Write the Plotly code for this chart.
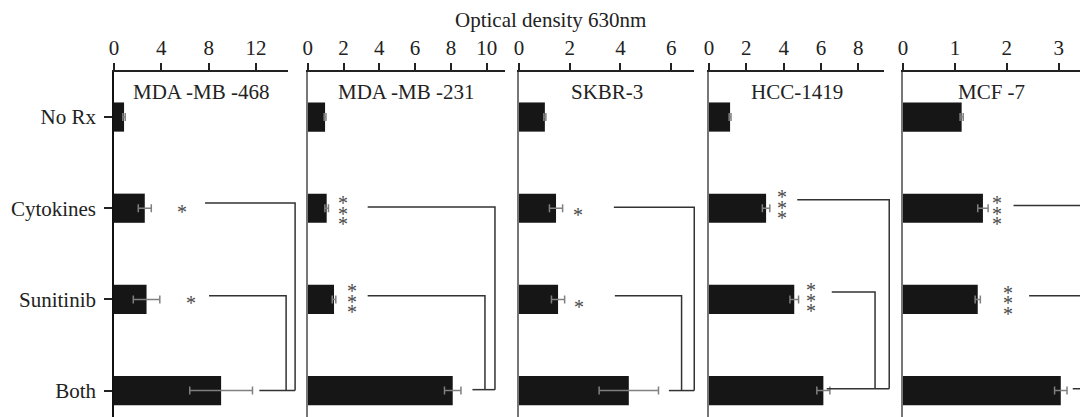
import plotly.graph_objects as go

# ---------------- data ----------------
categories = ["No Rx", "Cytokines", "Sunitinib", "Both"]
panel_titles = ["MDA -MB -468", "MDA -MB -231", "SKBR-3", "HCC-1419", "MCF -7"]

mda468_mean = [0.85, 2.6, 2.75, 9.05]
mda468_err = [0.1, 0.55, 1.12, 2.65]
mda231_mean = [0.97, 1.06, 1.47, 8.1]
mda231_err = [0.05, 0.1, 0.1, 0.46]
skbr3_mean = [1.02, 1.46, 1.54, 4.33]
skbr3_err = [0.04, 0.26, 0.26, 1.17]
hcc1419_mean = [1.13, 3.06, 4.57, 6.13]
hcc1419_err = [0.05, 0.2, 0.23, 0.35]
mcf7_mean = [1.13, 1.54, 1.44, 3.04]
mcf7_err = [0.03, 0.1, 0.05, 0.12]

cyto_sig = ["*", "***", "*", "***", "***"]
suni_sig = ["*", "***", "*", "***", "***"]

tick_vals = [[0, 4, 8, 12], [0, 2, 4, 6, 8, 10], [0, 2, 4, 6], [0, 2, 4, 6, 8], [0, 1, 2, 3]]
axis_title = "Optical density 630nm"

means = [mda468_mean, mda231_mean, skbr3_mean, hcc1419_mean, mcf7_mean]
errs = [mda468_err, mda231_err, skbr3_err, hcc1419_err, mcf7_err]

# ---------------- layout / style ----------------
W, H = 1080, 417
TOP, BOT = 72, 0
dom_px = [(114, 288), (307.7, 505), (519, 694), (709, 884), (903, 1080)]
x_max = [14.7, 11.02, 6.9, 9.38, 3.41]
y_range = [3.29, -0.494]
FONT = "Liberation Serif"
FS = 21
STAR_FS = 20

# annotation geometry (data units): star x, bracket start, bracket right, y offsets
star_cyto = [(5.75, 0.0), (1.96, 0.016), (2.31, 0.03), (3.9, -0.05), (1.82, 0.016)]
star_suni = [(6.48, 0.0), (2.49, -0.02), (2.38, 0.04), (5.45, -0.03), (2.02, 0.0)]
br_cyto = [(7.69, 15.3, -0.057), (3.35, 10.46, -0.013), (3.74, 6.91, -0.01), (4.73, 9.66, -0.093), (2.13, 3.7, -0.03)]
br_suni = [(8.03, 14.54, -0.04), (3.35, 9.9, -0.04), (3.78, 6.41, -0.04), (6.58, 8.9, -0.08), (2.43, 3.7, -0.04)]
br_both = [(12.28, 0.0), (9.2, -0.01), (5.91, 0.0), (6.31, -0.02), (3.27, -0.02)]

fig = go.Figure()


def paper_x(i, v):
    d0, d1 = dom_px[i]
    return (d0 + v / x_max[i] * (d1 - d0)) / W


def paper_y(c):
    return (y_range[0] - c) / (y_range[0] - y_range[1])


for i in range(5):
    n = "" if i == 0 else str(i + 1)
    fig.add_trace(go.Bar(
        y=categories, x=means[i], orientation="h",
        marker=dict(color="#161616", line=dict(width=0)),
        width=0.32,
        error_x=dict(type="data", array=errs[i], color="#808080", thickness=1.5, width=4),
        xaxis="x" + n, yaxis="y" + n, showlegend=False,
    ))
    fig.layout["xaxis" + n] = dict(
        domain=[dom_px[i][0] / W, dom_px[i][1] / W], range=[0, x_max[i]],
        side="top", anchor="y" + n, showline=True, linecolor="#222", linewidth=1.5,
        ticks="outside", ticklen=7, tickwidth=1.5, tickcolor="#222",
        tickvals=tick_vals[i], ticktext=[str(t) for t in tick_vals[i]],
        tickfont=dict(family=FONT, size=FS, color="#222"),
        showgrid=False, zeroline=False, automargin=False, fixedrange=True,
    )
    fig.layout["yaxis" + n] = dict(
        domain=[0, 1], anchor="x" + n, type="category",
        categoryorder="array", categoryarray=categories, range=y_range,
        showline=True, linecolor="#111" if i == 0 else "#777", linewidth=1.5,
        ticks="outside" if i == 0 else "", ticklen=8, tickwidth=1.5, tickcolor="#222",
        showticklabels=(i == 0), tickfont=dict(family=FONT, size=FS, color="#222"),
        ticklabelstandoff=4,
        showgrid=False, zeroline=False, automargin=False, fixedrange=True,
    )
    # panel title
    fig.add_annotation(
        x=(dom_px[i][0] + dom_px[i][1]) / 2 / W, y=paper_y(-0.27), xref="paper", yref="paper",
        text=panel_titles[i], showarrow=False, font=dict(family=FONT, size=FS, color="#222"),
        xanchor="center", yanchor="middle",
    )
    # significance stars
    for sig, (sx, sdy), row in ((cyto_sig[i], star_cyto[i], 1), (suni_sig[i], star_suni[i], 2)):
        k = len(sig)
        for j in range(k):
            shift = (j - (k - 1) / 2) * -10.5
            fig.add_annotation(
                x=sx, y=paper_y(row + sdy), xref="x" + n, yref="paper",
                text="*", showarrow=False, font=dict(family=FONT, size=STAR_FS, color="#4a4a4a"),
                xanchor="center", yanchor="middle", yshift=shift - 4,
            )
    # brackets
    yb = 3 + br_both[i][1]
    for (x_s, x_r, dy), row in ((br_cyto[i], 1), (br_suni[i], 2)):
        path = "M {:.5f} {:.5f} L {:.5f} {:.5f} L {:.5f} {:.5f}".format(
            paper_x(i, x_s), paper_y(row + dy), paper_x(i, x_r), paper_y(row + dy),
            paper_x(i, x_r), paper_y(yb))
        fig.add_shape(type="path", path=path, xref="paper", yref="paper",
                      line=dict(color="#333", width=1.5))
    x_outer = max(br_cyto[i][1], br_suni[i][1])
    fig.add_shape(type="line", xref="paper", yref="paper",
                  x0=paper_x(i, br_both[i][0]), x1=paper_x(i, x_outer),
                  y0=paper_y(yb), y1=paper_y(yb), line=dict(color="#333", width=1.5))

fig.add_annotation(
    x=550.5 / W, y=(H - 20 - BOT) / (H - TOP - BOT), xref="paper", yref="paper",
    text=axis_title, showarrow=False, font=dict(family=FONT, size=FS, color="#222"),
    xanchor="center", yanchor="middle",
)

fig.update_layout(
    width=W, height=H, margin=dict(l=0, r=0, t=TOP, b=BOT, pad=0),
    plot_bgcolor="white", paper_bgcolor="white", bargap=0.68,
)

fig.write_html("out.html")
